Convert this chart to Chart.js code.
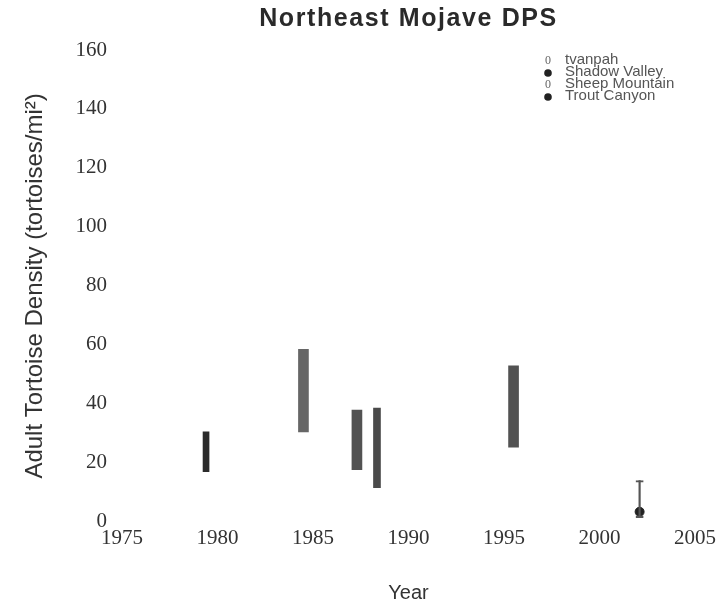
<!DOCTYPE html>
<html><head><meta charset="utf-8">
<script src="https://cdn.jsdelivr.net/npm/chart.js@4.4.0/dist/chart.umd.min.js"></script>
<style>html,body{margin:0;padding:0;background:#fff}#wrap{width:720px;height:605px}</style>
</head><body><div id="wrap"><canvas id="c" width="720" height="605"></canvas></div>
<script>
const chartTitle = 'Northeast Mojave DPS';
const xAxisTitle = 'Year';
const yAxisTitle = 'Adult Tortoise Density (tortoises/mi²)';
const siteNames = ['tvanpah', 'Shadow Valley', 'Sheep Mountain', 'Trout Canyon'];
const xTicks = [1975, 1980, 1985, 1990, 1995, 2000, 2005];
const yTicks = [0, 20, 40, 60, 80, 100, 120, 140, 160];

// density ranges (low / high) per site and survey year
const ivanpahYears = [1979.4];
const ivanpahLow = [17.0];
const ivanpahHigh = [30.5];

const shadowYears = [1984.5];
const shadowLow = [30.5];
const shadowHigh = [58.5];

const sheepYears = [1987.3, 1995.5];
const sheepLow = [17.7, 25.3];
const sheepHigh = [37.9, 52.9];

const troutYears = [1988.35];
const troutLow = [11.6];
const troutHigh = [38.6];

const troutPointYears = [2002.1];
const troutPointMean = [3.4];
const troutPointLow = [1.4];
const troutPointHigh = [14.0];

const toRanges = (xs, lo, hi) => xs.map((x, i) => ({x: x, y: [lo[i], hi[i]]}));
const toPoints = (xs, ys) => xs.map((x, i) => ({x: x, y: ys[i]}));

const titlePlugin = {
  id: 'centeredTitle',
  afterDraw(chart) {
    const ctx = chart.ctx, a = chart.chartArea;
    ctx.save();
    ctx.font = 'bold 25px "Liberation Sans", Arial, sans-serif';
    try { ctx.letterSpacing = '1.6px'; } catch (e) {}
    ctx.fillStyle = '#2a2a2a';
    ctx.textAlign = 'center';
    ctx.textBaseline = 'middle';
    ctx.fillText(chartTitle, (a.left + a.right) / 2, 19);
    ctx.restore();
  }
};

const legendPlugin = {
  id: 'siteLegend',
  afterDraw(chart) {
    const ctx = chart.ctx, a = chart.chartArea;
    const x0 = a.right - 147, y0 = a.top + 10;
    ctx.save();
    siteNames.forEach((name, i) => {
      const y = y0 + i * 12;
      if (i % 2 === 0) {
        ctx.font = '12px "Liberation Serif", serif';
        ctx.fillStyle = '#666';
        ctx.textAlign = 'center';
        ctx.textBaseline = 'middle';
        ctx.fillText('0', x0, y + 1);
      } else {
        ctx.beginPath();
        ctx.fillStyle = '#222';
        ctx.arc(x0, y + 1, 3.8, 0, Math.PI * 2);
        ctx.fill();
      }
      ctx.font = '15px "Liberation Sans", Arial, sans-serif';
      ctx.fillStyle = '#555';
      ctx.textAlign = 'left';
      ctx.textBaseline = 'middle';
      ctx.fillText(name, x0 + 17, y);
    });
    ctx.restore();
  }
};

new Chart(document.getElementById('c'), {
  type: 'scatter',
  data: {
    datasets: [
      {type: 'bar', label: siteNames[0], data: toRanges(ivanpahYears, ivanpahLow, ivanpahHigh),
       backgroundColor: '#2b2b2b', barThickness: 6, grouped: false, borderSkipped: false},
      {type: 'bar', label: siteNames[1], data: toRanges(shadowYears, shadowLow, shadowHigh),
       backgroundColor: '#666666', barThickness: 10, grouped: false, borderSkipped: false},
      {type: 'bar', label: siteNames[2], data: toRanges(sheepYears, sheepLow, sheepHigh),
       backgroundColor: '#525252', barThickness: 10, grouped: false, borderSkipped: false},
      {type: 'bar', label: siteNames[3], data: toRanges(troutYears, troutLow, troutHigh),
       backgroundColor: '#4a4a4a', barThickness: 7, grouped: false, borderSkipped: false},
      {type: 'bar', label: siteNames[3] + ' range', data: toRanges(troutPointYears, troutPointLow, troutPointHigh),
       backgroundColor: '#555', barThickness: 1.5, grouped: false, borderSkipped: false},
      {type: 'bar', label: siteNames[3] + ' caps', data: toRanges(troutPointYears, troutPointLow, troutPointHigh),
       backgroundColor: 'rgba(0,0,0,0)', borderColor: '#555',
       borderWidth: {top: 1.5, bottom: 1.5, left: 0, right: 0},
       barThickness: 8, grouped: false, borderSkipped: false},
      {type: 'scatter', label: siteNames[3], data: toPoints(troutPointYears, troutPointMean),
       pointRadius: 4.5, backgroundColor: '#222', borderColor: '#222'}
    ]
  },
  options: {
    responsive: false,
    devicePixelRatio: 1,
    animation: false,
    layout: {padding: {top: 50, right: 0, bottom: 0, left: 0}},
    plugins: {legend: {display: false}, title: {display: false}, tooltip: {enabled: false}},
    scales: {
      x: {
        type: 'linear', min: 1975, max: 2005, offset: false,
        grid: {display: false, drawTicks: false},
        border: {display: false},
        afterBuildTicks: s => { s.ticks = xTicks.map(v => ({value: v})); },
        ticks: {
          font: {family: '"Liberation Serif", serif', size: 21},
          color: '#333', padding: 4, maxRotation: 0, autoSkip: false,
          callback: v => String(v)
        },
        title: {display: true, text: xAxisTitle, color: '#333',
          font: {family: '"Liberation Sans", Arial, sans-serif', size: 20},
          padding: {top: 26, bottom: 0}}
      },
      y: {
        min: 0, max: 160,
        grid: {display: false, drawTicks: false},
        border: {display: false},
        afterBuildTicks: s => { s.ticks = yTicks.map(v => ({value: v})); },
        afterFit: s => { s.width = 122; },
        ticks: {
          font: {family: '"Liberation Serif", serif', size: 21},
          color: '#333', padding: 15,
          callback: v => String(v)
        },
        title: {display: true, text: yAxisTitle, color: '#333',
          font: {family: '"Liberation Sans", Arial, sans-serif', size: 24},
          padding: {top: 21, bottom: 0}}
      }
    }
  },
  plugins: [titlePlugin, legendPlugin]
});
</script>
</body></html>
